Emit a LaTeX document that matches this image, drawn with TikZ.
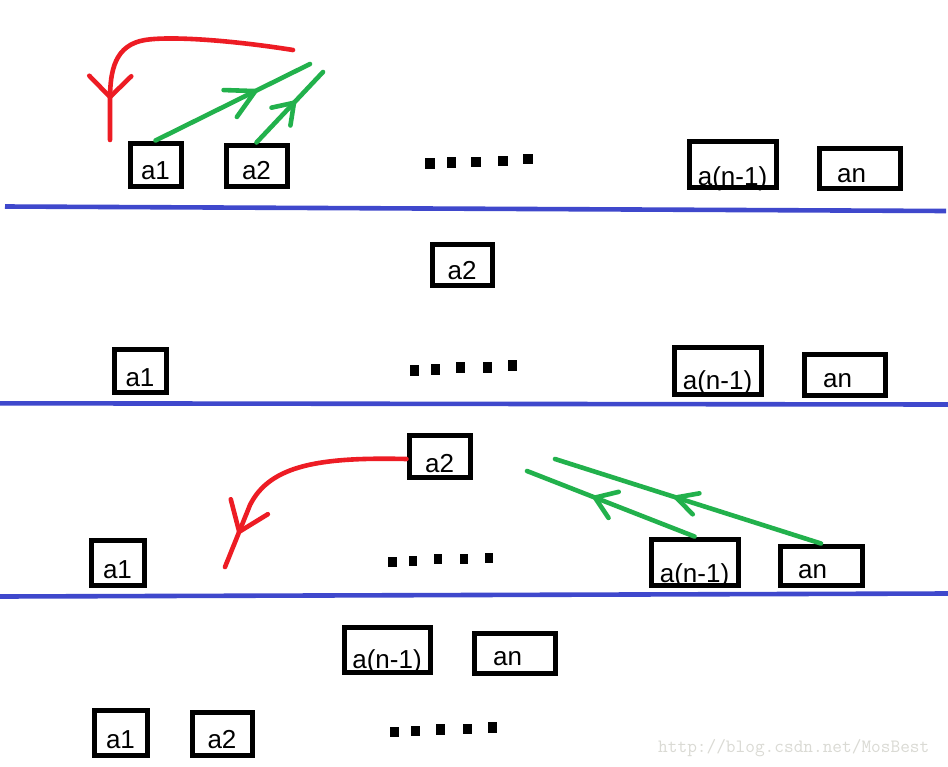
\documentclass[tikz,border=0pt]{standalone}
\usepackage{fontspec}
\setmainfont{Liberation Sans}
\usetikzlibrary{decorations.markings}
\definecolor{pred}{RGB}{237,28,36}
\definecolor{pgreen}{RGB}{34,177,76}
\definecolor{pblue}{RGB}{63,72,204}
\definecolor{wmark}{RGB}{218,218,212}
\begin{document}
\begin{tikzpicture}[x=1pt,y=-1pt,
  bx/.style={draw, line width=5pt, inner sep=0pt, font=\fontsize{26}{30}\selectfont},
  redpen/.style={draw=pred, line width=4.6pt, line cap=round, line join=round},
  greenpen/.style={draw=pgreen, line width=4.6pt, line cap=round, line join=round},
  bluepen/.style={draw=pblue, line width=4.6pt},
  vee/.style n args={4}{postaction={decorate}, decoration={markings,
     mark=at position #1 with {\draw[#4, line width=4.6pt, line cap=round, line join=round] (-#2,#3) -- (0,0) -- (-#2,-#3);}}},
  dot/.style={fill=black}
]
\path[fill=white, use as bounding box] (0,0) rectangle (948,766);

% separator lines
\draw[bluepen] (5,206.5) -- (946,211);
\draw[bluepen] (0,403.3) -- (948,404.5);
\draw[bluepen] (0,596.5) -- (948,593.5);

% ---------- panel 1 ----------
\node[bx, minimum width=51pt, minimum height=43pt, text height=36pt, text depth=7pt] (p1a1) at (155.5,164.5) {a1};
\node[bx, minimum width=61pt, minimum height=41pt, text height=34pt, text depth=7pt] (p1a2) at (256.5,165.5) {a2};
\node[bx, minimum width=87pt, minimum height=46pt, text height=44pt, text depth=2pt] (p1an1) at (732.5,164) {a(n-1)};
\node[bx, minimum width=81pt, minimum height=40pt, text height=34pt, text depth=6pt] (p1an) at (859.5,168) {an\hspace*{16pt}};
\fill[dot] (425,158.3) rectangle (435,169);
\fill[dot] (446.7,157.3) rectangle (456,168.3);
\fill[dot] (471,156.7) rectangle (480.5,166.7);
\fill[dot] (498.3,156) rectangle (507.5,166);
\fill[dot] (523.3,154) rectangle (532.5,164.3);

\coordinate (r1s) at (293,50);
\coordinate (r1e) at (110,140);
\coordinate (g1e) at (310,64);
\coordinate (g2e) at (323,72);
\draw[redpen, vee={-43pt}{21}{21}{pred}] (r1s) .. controls (230,40) and (170,36) .. (145,40) .. controls (115,45) and (110,70) .. (110,100) -- (r1e);
\draw[greenpen, vee={-61pt}{28}{15}{pgreen}] (p1a1.north) -- (g1e);
\draw[greenpen, vee={-42pt}{19}{13}{pgreen}] (p1a2.north) -- (g2e);

% ---------- panel 2 ----------
\node[bx, minimum width=60pt, minimum height=41pt, text height=35pt, text depth=6pt] (p2a2) at (462,264.5) {a2};
\node[bx, minimum width=52pt, minimum height=43pt, text height=37pt, text depth=6pt] (p2a1) at (140,370.5) {a1};
\node[bx, minimum width=87pt, minimum height=47pt, text height=42pt, text depth=5pt] (p2an1) at (717.5,370.5) {a(n-1)};
\node[bx, minimum width=81pt, minimum height=41pt, text height=33pt, text depth=8pt] (p2an) at (844.5,374.5) {an\hspace*{14pt}};
\fill[dot] (410,365) rectangle (419,375.7);
\fill[dot] (431,364) rectangle (440,375);
\fill[dot] (456,361.7) rectangle (465,372.7);
\fill[dot] (482.7,361.7) rectangle (491.7,372.7);
\fill[dot] (508.3,360) rectangle (517.3,370.7);

% ---------- panel 3 ----------
\node[bx, minimum width=61pt, minimum height=42pt, text height=37pt, text depth=5pt] (p3a2) at (439.5,456) {a2};
\node[bx, minimum width=53pt, minimum height=45pt, text height=38pt, text depth=7pt] (p3a1) at (117.5,562.5) {a1};
\node[bx, minimum width=87pt, minimum height=46pt, text height=43pt, text depth=3pt] (p3an1) at (694.5,562) {a(n-1)};
\node[bx, minimum width=82pt, minimum height=39pt, text height=32pt, text depth=7pt] (p3an) at (821,565.5) {an\hspace*{17pt}};
\fill[dot] (388,556.7) rectangle (396.5,566.7);
\fill[dot] (408.5,556) rectangle (416.8,566);
\fill[dot] (433.5,554) rectangle (441.5,564);
\fill[dot] (460,554) rectangle (468,564);
\fill[dot] (485,552.7) rectangle (493,562.7);

\coordinate (r3e) at (225,567);
\coordinate (gAe) at (527,471);
\coordinate (gBe) at (555,459);
\draw[redpen, vee={-38pt}{27}{20}{pred}] ([yshift=-3pt]p3a2.west) .. controls (320,457) and (270,465) .. (250,505) -- (r3e);
\draw[greenpen, vee={-73pt}{20}{14}{pgreen}] (p3an1.north) -- (gAe);
\draw[greenpen, vee={-127pt}{21}{11}{pgreen}] (p3an.north) -- (gBe);

% ---------- panel 4 ----------
\node[bx, minimum width=86pt, minimum height=45pt, text height=41pt, text depth=4pt] (p4an1) at (387,649.5) {a(n-1)};
\node[bx, minimum width=81pt, minimum height=40pt, text height=32pt, text depth=8pt] (p4an) at (514.5,653) {an\hspace*{14pt}};
\node[bx, minimum width=53pt, minimum height=45pt, text height=38pt, text depth=7pt] (p4a1) at (120.5,732.5) {a1};
\node[bx, minimum width=60pt, minimum height=43pt, text height=36pt, text depth=7pt] (p4a2) at (222,733.5) {a2};
\fill[dot] (390,727) rectangle (399,737);
\fill[dot] (411,726) rectangle (420,736);
\fill[dot] (435.5,724) rectangle (444.5,735);
\fill[dot] (463,723.5) rectangle (472,734);
\fill[dot] (488,722) rectangle (497,733);

\node[anchor=base west, inner sep=0pt, text=wmark, font=\ttfamily\fontsize{18.8}{20}\selectfont] (wm) at (658,752) {http://blog.csdn.net/MosBest};
\end{tikzpicture}
\end{document}
